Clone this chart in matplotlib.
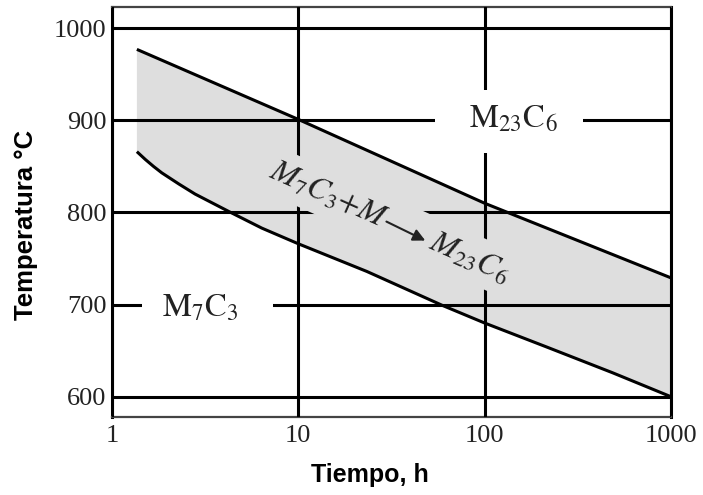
import numpy as np
import matplotlib
matplotlib.use("Agg")
import matplotlib.pyplot as plt
from matplotlib.patches import Rectangle

# ---- data ----
upper_t = [1.36, 10, 100, 1000]
upper_T = [977, 901, 810, 729]
lower_t = [1.36, 1.51, 1.67, 1.85, 2.28, 2.79, 4.24, 6.37, 10, 23.3, 59.5, 100, 215, 486, 1000]
lower_T = [866, 857.5, 850, 843, 831, 820, 801, 783, 766, 736, 699, 680, 654, 626, 600]
x_ticks = [1, 10, 100, 1000]
x_ticklabels = ["1", "10", "100", "1000"]
y_ticks = [600, 700, 800, 900, 1000]
y_ticklabels = ["600", "700", "800", "900", "1000"]
label_upper = r"$\mathrm{M_{23}C_6}$"
label_lower = r"$\mathrm{M_7C_3}$"
label_band = r"$\mathit{M_7C_3{+}M}\hspace{2.3}\mathit{M_{23}C_6}$"
xlabel = "Tiempo, h"
ylabel = "Temperatura °C"

plt.rcParams["mathtext.fontset"] = "stix"
GREY = "#dedede"
LW = 2.2

fig = plt.figure(figsize=(7.03, 4.95), dpi=100)
ax = fig.add_axes([112 / 703, 1 - 417 / 495, 559 / 703, 410 / 495])
ax.set_xscale("log")
ax.set_xlim(1, 1000)
ax.set_ylim(578, 1023)

# band
px = np.concatenate([upper_t, lower_t[::-1]])
py = np.concatenate([upper_T, lower_T[::-1]])
ax.fill(px, py, color=GREY, lw=0, zorder=1)

# grid
ax.set_axisbelow(False)
ax.set_xticks(x_ticks)
ax.set_xticklabels(x_ticklabels)
ax.set_yticks(y_ticks)
ax.set_yticklabels(y_ticklabels)
ax.minorticks_off()
ax.grid(True, color="black", lw=LW)
ax.tick_params(length=0, pad=4, labelsize=19)
for lab in ax.get_xticklabels() + ax.get_yticklabels():
    lab.set_family("Liberation Serif")
    lab.set_color("#222222")
ax.tick_params(axis="x", pad=6)

for s in ["left", "right"]:
    ax.spines[s].set_linewidth(LW)
    ax.spines[s].set_color("black")
for s in ["top", "bottom"]:
    ax.spines[s].set_linewidth(1.6)
    ax.spines[s].set_color("#444444")

# curves
ax.plot(upper_t, upper_T, color="black", lw=LW, zorder=4, solid_capstyle="butt")
ax.plot(lower_t, lower_T, color="black", lw=LW, zorder=4, solid_capstyle="butt",
        solid_joinstyle="round")

# masks behind region labels
ax.add_patch(Rectangle((53.9, 864.6), 335 - 53.9, 932.8 - 864.6, facecolor="white",
                       edgecolor="none", zorder=2.8))
ax.add_patch(Rectangle((1.45, 672.8), 7.3 - 1.45, 721.6 - 672.8, facecolor="white",
                       edgecolor="none", zorder=2.8))

ax.text(143, 891.7, label_upper, ha="center", va="baseline", fontsize=23.5,
        color="#222222", zorder=3)
ax.text(2.96, 687, label_lower, ha="center", va="baseline", fontsize=23.5,
        color="#222222", zorder=3)

ax.text(6.86, 838.6, label_band, ha="left", va="baseline", rotation=-24,
        rotation_mode="anchor", fontsize=23, color="#222222", zorder=3,
        bbox=dict(boxstyle="square,pad=0.25", facecolor=GREY, edgecolor="none"))
ax.annotate("", xy=(48.0, 769.5), xytext=(29.7, 790.1),
            arrowprops=dict(arrowstyle="-|>", lw=1.5, color="#222222",
                            mutation_scale=18, shrinkA=0, shrinkB=0),
            zorder=3.5)

ax.set_xlabel(xlabel, fontsize=18, fontweight="bold", family="Liberation Sans",
              va="center")
ax.xaxis.set_label_coords(258 / 559, (417 - 475) / 410)
ax.set_ylabel(ylabel, fontsize=18.5, fontweight="bold", family="Liberation Sans",
              va="center")
ax.yaxis.set_label_coords((26 - 112) / 559, (417 - 225) / 410)

fig.savefig("out.png", dpi=100)
